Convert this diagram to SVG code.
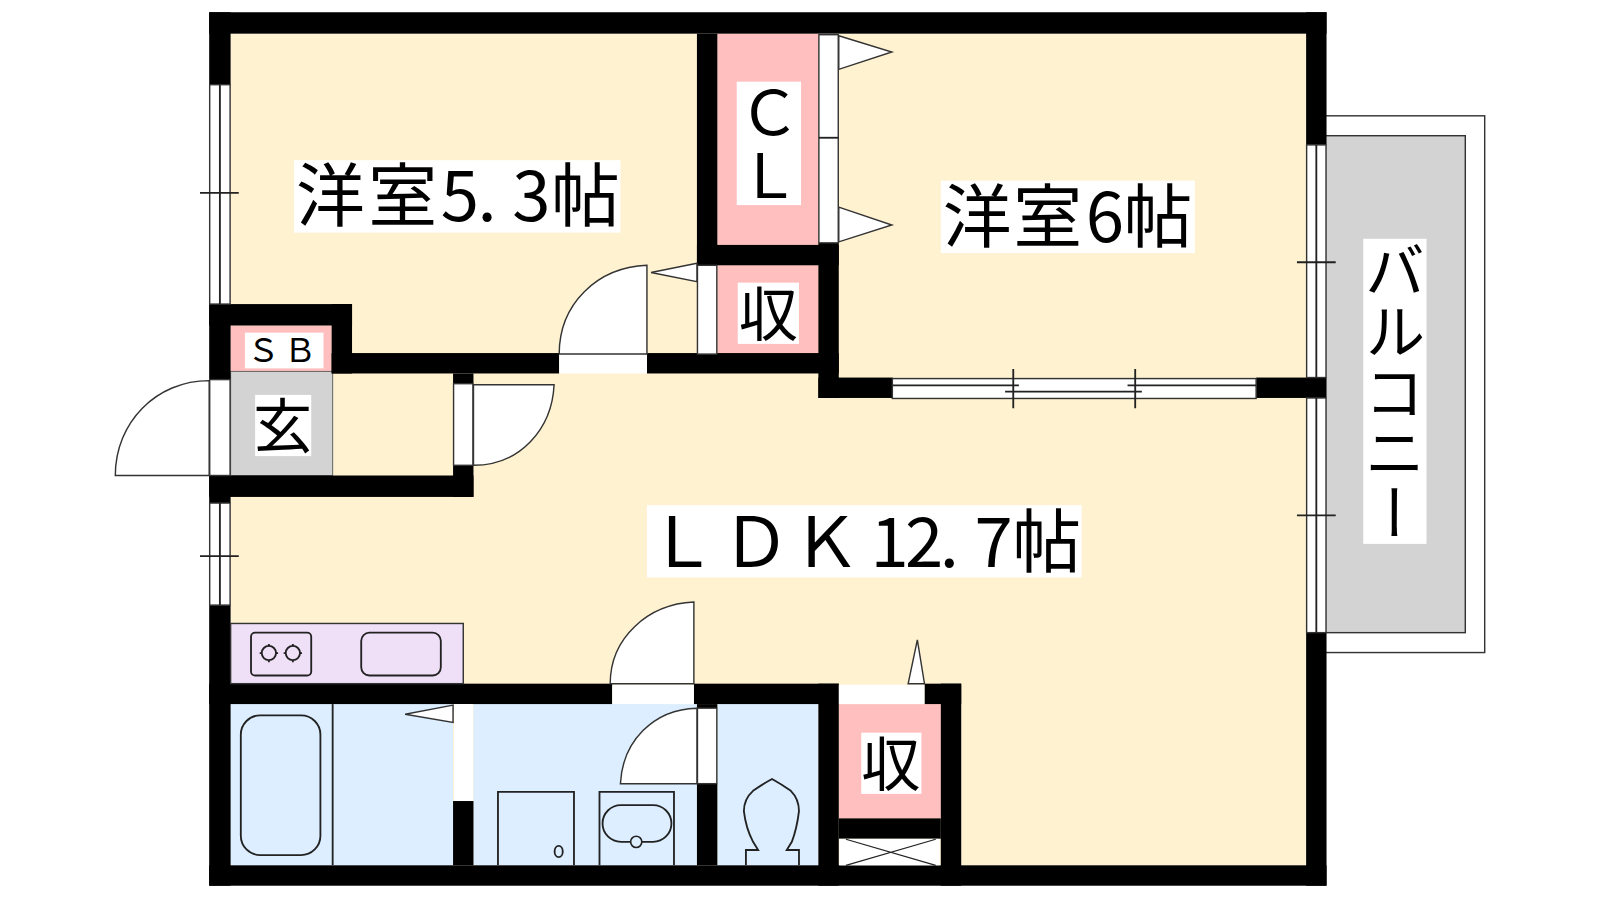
<svg xmlns="http://www.w3.org/2000/svg" width="1600" height="900" viewBox="0 0 1600 900">
<style>
.w{fill:#000}
.o{fill:#fff;stroke:#333;stroke-width:1.4}
.ln{fill:none;stroke:#222;stroke-width:1.8}
.b{fill:#fff}
.cream{fill:#fff2d0}.pink{fill:#ffbfbf}.blue{fill:#dceeff}.gray{fill:#d3d3d3}
text{font-family:"Noto Sans CJK JP","Noto Sans",sans-serif;fill:#000}
</style>
<rect width="1600" height="900" fill="#fff"/>
<g transform="scale(1.020408)">
<g id="balcony">
<rect class="o" x="1296" y="113.500" width="159" height="526"/>
<rect x="1296" y="133" width="140" height="487" fill="#d3d3d3" stroke="#333" stroke-width="1.4"/>
</g>
<g id="rooms">
<rect class="cream" x="226" y="33" width="1054" height="815"/>
<rect class="pink" x="703" y="33" width="99" height="207"/>
<rect class="pink" x="703" y="260" width="99" height="86"/>
<rect class="pink" x="226" y="319" width="99" height="45"/>
<rect class="gray" x="226" y="364" width="100" height="102" stroke="#666" stroke-width="1"/>
<rect class="pink" x="822" y="690" width="100" height="112"/>
<rect class="blue" x="226" y="690" width="218" height="158"/>
<rect class="blue" x="464" y="690" width="219" height="158"/>
<rect class="blue" x="703" y="690" width="99" height="158"/>
</g>
<g id="walls">
<rect class="w" x="205" y="12" width="1095" height="21"/>
<rect class="w" x="205" y="848" width="1095" height="20"/>
<rect class="w" x="205" y="12" width="21" height="71"/>
<rect class="w" x="205" y="298" width="21" height="74"/>
<rect class="w" x="205" y="466" width="21" height="27"/>
<rect class="w" x="205" y="593" width="21" height="275"/>
<rect class="w" x="1280" y="12" width="20" height="130"/>
<rect class="w" x="1231" y="370" width="69" height="20"/>
<rect class="w" x="1280" y="620" width="20" height="248"/>
<rect class="w" x="205" y="298" width="140" height="21"/>
<rect class="w" x="325" y="298" width="20" height="68"/>
<rect class="w" x="325" y="346" width="223" height="20"/>
<rect class="w" x="634" y="346" width="188" height="20"/>
<rect class="w" x="683" y="33" width="20" height="227"/>
<rect class="w" x="683" y="240" width="139" height="20"/>
<rect class="w" x="802" y="238" width="20" height="152"/>
<rect class="w" x="802" y="370" width="73" height="20"/>
<rect class="w" x="444" y="366" width="20" height="10"/>
<rect class="w" x="444" y="456" width="20" height="31"/>
<rect class="w" x="205" y="466" width="259" height="21"/>
<rect class="w" x="205" y="670" width="395" height="20"/>
<rect class="w" x="680" y="670" width="142" height="20"/>
<rect class="w" x="906" y="670" width="36" height="20"/>
<rect class="w" x="922" y="670" width="20" height="198"/>
<rect class="w" x="802" y="670" width="20" height="198"/>
<rect class="w" x="822" y="802" width="100" height="20"/>
<rect class="w" x="444" y="785" width="20" height="63"/>
<rect class="w" x="683" y="768" width="20" height="80"/>
<rect class="w" x="683" y="690" width="20" height="4"/>
</g>
<g id="windows">
<rect class="o" x="205.500" y="83" width="20" height="215"/>
<path class="ln" d="M215.500 83V298M196 189H234"/>
<rect class="o" x="205.500" y="493" width="20" height="100"/>
<path class="ln" d="M215.500 493V593M196 545H234"/>
<rect class="o" x="1280.500" y="142" width="19" height="228"/>
<path class="ln" d="M1290 142V370M1271 257H1309"/>
<rect class="o" x="1280.500" y="390" width="19" height="230"/>
<path class="ln" d="M1290 390V620M1271 505H1309"/>
<rect class="o" x="874.500" y="371" width="356.500" height="19.500"/>
<path class="ln" d="M875 377.600H998.500M1105 377.600H1231M985 383.800H1119M993 361.500V400M1112.500 361.500V400"/>
</g>
<g id="doors">
<rect class="o" x="802.500" y="34" width="19" height="204"/>
<path class="ln" d="M802.500 135H821.500"/>
<polygon class="o" points="822,35 874,51 822,68"/>
<polygon class="o" points="822,203 874,220.500 822,237"/>
<rect class="o" x="683.500" y="260" width="19" height="87"/>
<polygon class="o" points="683,258 638,267 683,276"/>
<rect class="b" x="548" y="347" width="86" height="19"/>
<path class="o" d="M634 347V260C585 262 548 298 548 347Z"/>
<rect class="o" x="205.500" y="372" width="20" height="94"/>
<path class="o" d="M205 466H113C113 414 153 373 205 373Z"/>
<rect class="o" x="444.500" y="376" width="19" height="80"/>
<path class="o" d="M464 377H543C541 420 510 456 464 456Z"/>
<rect class="b" x="600" y="671" width="80" height="19"/>
<path class="o" d="M680 670V590C635 592 598 625 598 670Z"/>
<rect class="b" x="822" y="671" width="84" height="19"/>
<polygon class="o" points="890,670 899,627 906,670"/>
<rect class="b" x="445" y="690" width="18.500" height="95"/>
<polygon class="o" points="444,691 397,700 444,708"/>
<rect class="o" x="683.500" y="694" width="19" height="74"/>
<path class="o" d="M683 694V768H608C610 727 640 695 683 694Z"/>
</g>
<g id="fixtures">
<rect x="226" y="611" width="228" height="59" fill="#efdff7" stroke="#333" stroke-width="1.4"/>
<rect class="ln" x="246" y="620" width="59" height="42" rx="4"/>
<circle class="ln" cx="263.500" cy="640" r="7"/>
<circle class="ln" cx="287" cy="640" r="7"/>
<path class="ln" d="M263.500 631V633M263.500 647V649M254.500 640H256.500M270.500 640H272.500M287 631V633M287 647V649M278 640H280M294 640H296"/>
<rect class="ln" x="354" y="620" width="78" height="42" rx="8"/>
<path class="ln" d="M326 690V848"/>
<rect class="ln" x="236" y="701" width="78" height="137" rx="19"/>
<path class="ln" d="M488 848V776H562.500V848"/>
<ellipse class="ln" cx="547.500" cy="834.500" rx="4" ry="5.500"/>
<path class="ln" d="M587.500 848V776H660.500V848"/>
<rect class="ln" x="590.500" y="789" width="67.500" height="36" rx="18"/>
<circle cx="623.500" cy="825" r="5.500" fill="#dceeff" stroke="#222" stroke-width="1.6"/>
<path class="ln" d="M731 848V833H743L738 825Q731 812 729 795Q729 783 738 775Q748 768 756.600 763.400Q765 768 775 775Q783 783 783 795Q781 812 776 825L771 833H783V848"/>
<rect class="b" x="822.500" y="822" width="98.500" height="26"/>
<path class="ln" d="M829 822.500L917 848M917 822.500L829 848" style="stroke-width:1.2"/>
</g>
<g id="labels">
<rect class="b" x="288" y="157" width="320" height="71"/>
<text x="290 361 432 468 502 540" y="217" font-size="67.500">洋室5.3帖</text>
<rect class="b" x="922" y="177" width="249" height="71"/>
<text x="924 993 1064 1101" y="237" font-size="67.500">洋室6帖</text>
<rect class="b" x="634" y="495" width="426" height="71"/>
<text x="635 707 776 853 887 921 955 992" y="556" font-size="67.500">ＬＤＫ12.7帖</text>
<rect class="b" x="722" y="80" width="63" height="121"/>
<text x="754" y="80" font-size="60" letter-spacing="2" writing-mode="vertical-rl">ＣＬ</text>
<rect class="b" x="723" y="277" width="60" height="60"/>
<text x="753" y="329" font-size="58" text-anchor="middle">収</text>
<rect class="b" x="844" y="718" width="59" height="60"/>
<text x="873" y="770" font-size="58" text-anchor="middle">収</text>
<rect class="b" x="240" y="326" width="77" height="35"/>
<text x="242 278" y="355" font-size="32">ＳＢ</text>
<rect class="b" x="250" y="387" width="55" height="60"/>
<text x="277" y="439" font-size="58" text-anchor="middle">玄</text>
<rect class="b" x="1336" y="234" width="62" height="299"/>
<text x="1367" y="235" font-size="59.500" writing-mode="vertical-rl">バルコニー</text>
</g>
</g>
</svg>
